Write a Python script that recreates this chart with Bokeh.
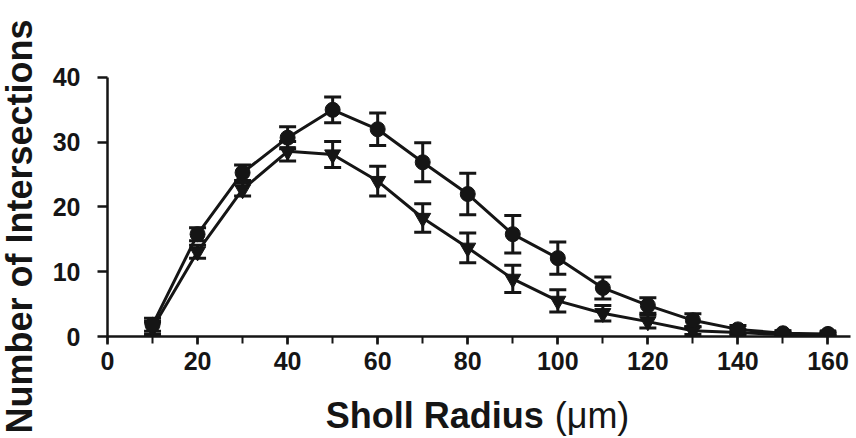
import math
from bokeh.plotting import figure
from bokeh.layouts import row, column
from bokeh.models import (ColumnDataSource, Whisker, TeeHead, SingleIntervalTicker, Range1d)
from bokeh.core.properties import value
from bokeh.embed import file_html
from bokeh.resources import INLINE

# Data
radius = [10, 20, 30, 40, 50, 60, 70, 80, 90, 100, 110, 120, 130, 140, 150, 160]
circ_mean = [1.8, 15.8, 25.3, 30.7, 35.0, 32.0, 26.9, 22.0, 15.8, 12.1, 7.5, 4.8, 2.5, 1.1, 0.5, 0.4]
circ_sem = [1.0, 1.0, 1.2, 1.7, 2.0, 2.5, 3.0, 3.2, 2.9, 2.5, 1.7, 1.2, 1.0, 0.6, 0.4, 0.3]
tri_mean = [1.3, 13.1, 22.7, 28.6, 28.1, 24.0, 18.3, 13.7, 8.9, 5.5, 3.6, 2.3, 0.9, 0.6, 0.3, 0.3]
tri_sem = [1.0, 1.0, 1.0, 1.5, 2.0, 2.3, 2.2, 2.3, 2.1, 1.7, 1.2, 1.0, 0.6, 0.4, 0.3, 0.2]

x_title_bold = "Sholl Radius"
x_title_unit = "(\u03bcm)"
y_title = "Number of Intersections"

FONT = "Liberation Sans"
INK = "#151515"

# ---------------- main plot ----------------
p = figure(frame_width=743, frame_height=272, min_border_left=67, min_border_right=6,
           min_border_top=64, min_border_bottom=49,
           x_range=Range1d(0, 165), y_range=Range1d(0, 42),
           output_backend="svg", toolbar_location=None)
p.outline_line_color = None
p.xgrid.visible = False
p.ygrid.visible = False
p.background_fill_color = "white"
p.border_fill_color = "white"

def src(mean, sem):
    return ColumnDataSource(dict(x=radius, y=mean,
                                 lo=[m - s for m, s in zip(mean, sem)],
                                 hi=[m + s for m, s in zip(mean, sem)]))

s_c = src(circ_mean, circ_sem)
s_t = src(tri_mean, tri_sem)

for s in (s_t, s_c):
    w = Whisker(source=s, base="x", lower="lo", upper="hi", line_color=INK, line_width=3,
                upper_head=TeeHead(size=17, line_width=3, line_color=INK),
                lower_head=TeeHead(size=17, line_width=3, line_color=INK))
    p.add_layout(w)

p.line("x", "y", source=s_t, line_color=INK, line_width=3)
p.line("x", "y", source=s_c, line_color=INK, line_width=3)
p.scatter("x", "y", source=s_t, marker="inverted_triangle", size=16, fill_color=INK, line_color=INK)
p.scatter("x", "y", source=s_c, marker="circle", size=15, fill_color=INK, line_color=INK)

p.xaxis.ticker = SingleIntervalTicker(interval=20, num_minor_ticks=2)
p.yaxis.ticker = SingleIntervalTicker(interval=10, num_minor_ticks=0)
p.xaxis.bounds = (0, 165)
p.yaxis.bounds = (0, 40)
for ax in (p.xaxis, p.yaxis):
    ax.axis_line_width = 2.5
    ax.axis_line_color = INK
    ax.major_tick_line_color = INK
    ax.major_tick_line_width = 2.5
    ax.minor_tick_line_color = INK
    ax.minor_tick_line_width = 2
    ax.major_tick_in = 0
    ax.minor_tick_in = 0
    ax.major_label_text_font = FONT
    ax.major_label_text_font_style = "bold"
    ax.major_label_text_font_size = "25px"
    ax.major_label_text_color = INK
p.xaxis.major_tick_out = 8
p.xaxis.minor_tick_out = 7
p.xaxis.major_label_standoff = 7
p.yaxis.major_tick_out = 10
p.yaxis.minor_tick_out = 0
p.yaxis.major_label_standoff = 17

# ---------------- x-axis title strip (shares the x scale) ----------------
px = figure(frame_width=743, frame_height=53, min_border_left=67, min_border_right=6,
            min_border_top=0, min_border_bottom=0,
            x_range=p.x_range, y_range=Range1d(0, 53),
            x_axis_type=None, y_axis_type=None,
            output_backend="svg", toolbar_location=None)
px.outline_line_color = None
px.grid.visible = False
px.text(x=[96.9], y=[23], text=[x_title_bold], text_align="right", text_baseline="alphabetic",
        text_font=value(FONT), text_font_style="bold", text_font_size="36px", text_color=INK)
px.text(x=[99.3], y=[23], text=[x_title_unit], text_align="left", text_baseline="alphabetic",
        text_font=value(FONT), text_font_style="normal", text_font_size="36px", text_color=INK)

# ---------------- y-axis title strip ----------------
py = figure(frame_width=40, frame_height=438, min_border=0,
            x_range=Range1d(0, 40), y_range=Range1d(0, 438),
            x_axis_type=None, y_axis_type=None,
            output_backend="svg", toolbar_location=None)
py.outline_line_color = None
py.grid.visible = False
py.text(x=[19], y=[212], text=[y_title], angle=math.pi / 2, text_align="center",
        text_baseline="middle", text_font=value(FONT), text_font_style="bold",
        text_font_size="36px", text_color=INK)

layout = row(py, column(p, px, spacing=0), spacing=0)
open("out.html", "w").write(file_html(layout, INLINE))
